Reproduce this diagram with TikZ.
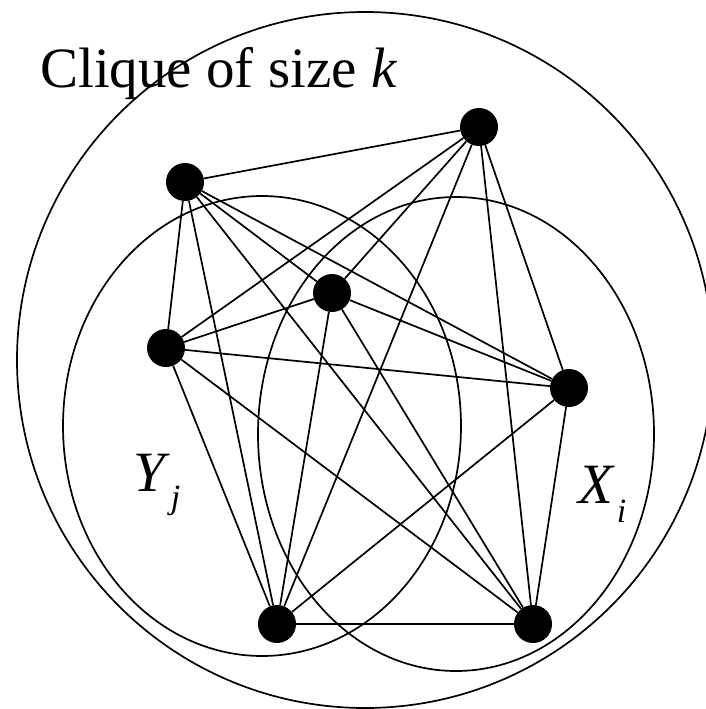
\documentclass[tikz,border=0pt]{standalone}
\usepackage{fontspec}
\setmainfont{Liberation Serif}
\tikzset{
  dot/.style={circle,fill=black,draw=none,inner sep=0pt,minimum size=38pt},
  edge/.style={line width=1.7pt,black},
  ring/.style={line width=1.7pt,black},
  lab/.style={inner sep=0pt,anchor=base west,font=\fontsize{57}{57}\selectfont}
}
\begin{document}
\begin{tikzpicture}[x=1pt,y=-1pt]
\useasboundingbox (0,0) rectangle (705,709);
% outer circle and the two sets
\draw[ring] (365,360) circle [radius=348pt];
\draw[ring] (262,426) ellipse [x radius=199pt, y radius=230pt];
\draw[ring] (456,434) ellipse [x radius=198pt, y radius=237pt];
% vertices
\node[dot] (A) at (185,182) {};
\node[dot] (B) at (479,127) {};
\node[dot] (C) at (332,293) {};
\node[dot] (D) at (166,348) {};
\node[dot] (E) at (569,388) {};
\node[dot] (F) at (277,624) {};
\node[dot] (G) at (533,624) {};
% edges of the clique
\foreach \u/\v in {A/B,A/C,A/D,A/E,A/F,A/G,
                   B/C,B/D,B/E,B/F,B/G,
                   C/D,C/E,C/F,C/G,
                   D/E,D/F,D/G,
                   E/F,E/G,
                   F/G}
  \draw[edge] (\u) -- (\v);
% labels
\node[lab] (title) at (40,88) {Clique of size \textit{k}};
\node[lab] (Y) at (133,491) {\textit{Y}\kern1pt\raisebox{-17pt}{\fontsize{34}{34}\selectfont\textit{j}}};
\node[lab] (X) at (578,503) {\textit{X}\kern2pt\raisebox{-19pt}{\fontsize{34}{34}\selectfont\textit{i}}};
\end{tikzpicture}
\end{document}
